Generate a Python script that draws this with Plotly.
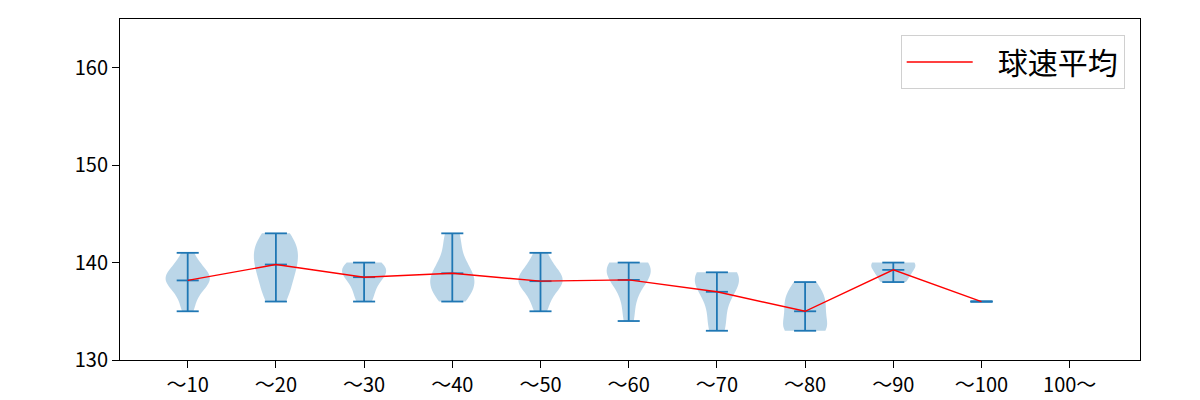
import numpy as np
import plotly.graph_objects as go

# ---- data ----
categories = ["～10", "～20", "～30", "～40", "～50", "～60", "～70", "～80", "～90", "～100", "100～"]
speeds_10 = [135, 136, 137, 138, 138, 138, 138, 139, 139, 139, 140, 141]
speeds_20 = [136, 137, 138, 139, 140, 140, 141, 142, 142, 143]
speeds_30 = [136, 137, 138, 139, 139, 139, 140, 140]
speeds_40 = [136, 137, 137, 138, 138, 139, 139, 140, 142, 143]
speeds_50 = [135, 136, 137, 138, 138, 138, 138, 139, 139, 140, 141]
speeds_60 = [134, 136, 138, 138, 139, 139, 140, 140, 140]
speeds_70 = [133, 134, 136, 137, 138, 138, 139, 139, 139]
speeds_80 = [133, 133, 133, 134, 135, 136, 136, 137, 138]
speeds_90 = [138, 139, 140, 140]
speeds_100 = [136]
speeds_100plus = []
yticks = [130, 140, 150, 160]

groups = [speeds_10, speeds_20, speeds_30, speeds_40, speeds_50, speeds_60,
          speeds_70, speeds_80, speeds_90, speeds_100, speeds_100plus]
positions = list(range(1, len(categories) + 1))

BLUE = "#1f77b4"
FONT = "Noto Sans CJK JP"

fig = go.Figure()

# violin bodies (Scott's rule bandwidth like matplotlib)
for pos, vals in zip(positions, groups):
    if len(vals) < 2:
        continue
    arr = np.asarray(vals, dtype=float)
    bw = arr.std(ddof=1) * len(arr) ** (-0.2)
    fig.add_trace(go.Violin(
        x=[pos] * len(arr), y=arr, width=0.5, spanmode="hard", bandwidth=bw,
        points=False, box_visible=False, meanline_visible=False,
        fillcolor="rgba(31,119,180,0.3)", line=dict(color="rgba(31,119,180,0)", width=0),
        showlegend=False, hoverinfo="skip", orientation="v",
    ))

# extrema / mean bars
cx, cy = [], []
half = 0.125
for pos, vals in zip(positions, groups):
    if len(vals) == 0:
        continue
    arr = np.asarray(vals, dtype=float)
    lo, hi, mu = arr.min(), arr.max(), arr.mean()
    for v in (lo, hi, mu):
        cx += [pos - half, pos + half, None]
        cy += [v, v, None]
    cx += [pos, pos, None]
    cy += [lo, hi, None]
fig.add_trace(go.Scatter(x=cx, y=cy, mode="lines", line=dict(color=BLUE, width=1.8),
                         showlegend=False, hoverinfo="skip"))

# mean line
mx = [p for p, v in zip(positions, groups) if len(v) > 0]
my = [float(np.mean(v)) for v in groups if len(v) > 0]
fig.add_trace(go.Scatter(x=mx, y=my, mode="lines", line=dict(color="red", width=1.4),
                         name="\u00a0\u00a0\u00a0球速平均", showlegend=True))

axis_common = dict(showline=True, mirror=True, linecolor="black", linewidth=1,
                   ticks="outside", ticklen=7, tickwidth=1, tickcolor="black",
                   showgrid=False, zeroline=False, automargin=False,
                   tickfont=dict(family=FONT, size=20, color="black"))

fig.update_layout(
    width=1200, height=400,
    margin=dict(l=120, r=60, t=19, b=40),
    plot_bgcolor="white", paper_bgcolor="white",
    violinmode="overlay",
    font=dict(family=FONT, color="black"),
    xaxis=dict(range=[0.2324, 11.797], tickmode="array", tickvals=positions,
               ticktext=categories, **axis_common),
    yaxis=dict(range=[130, 165], tickmode="array", tickvals=yticks, **axis_common),
    legend=dict(x=0.985, y=0.953, xanchor="right", yanchor="top",
                bgcolor="white", bordercolor="#d0d0d0", borderwidth=1,
                itemwidth=66,
                font=dict(family=FONT, size=30, color="black")),
)

fig.write_html("out.html")
